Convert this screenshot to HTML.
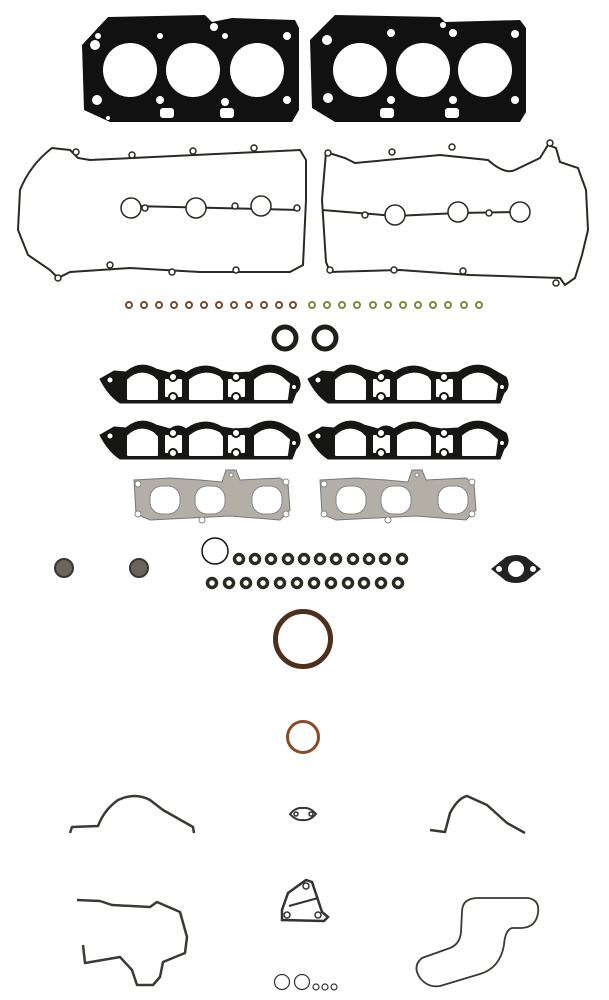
<!DOCTYPE html>
<html><head><meta charset="utf-8"><style>html,body{margin:0;padding:0;background:#fff}svg{display:block}</style></head>
<body>
<svg width="609" height="1000" viewBox="0 0 609 1000" xmlns="http://www.w3.org/2000/svg">
<g fill="#111">
<path d="M108,17 L205,15 L212,22 L232,18 L295,20 L299,28 L299,110 L292,122 L110,122 L84,110 L82,45 Z"/>
<path d="M335,15 L440,17 L445,22 L520,20 L526,28 L526,112 L520,122 L335,122 L312,108 L310,40 Z"/>
</g>
<g fill="#fff">
<circle cx="130" cy="70" r="27"/><circle cx="193" cy="70" r="27"/><circle cx="257" cy="70" r="27"/>
<circle cx="360" cy="70" r="27"/><circle cx="423" cy="70" r="27"/><circle cx="485" cy="70" r="27"/>
<circle cx="95" cy="45" r="5"/><circle cx="98" cy="36" r="3"/><circle cx="97" cy="100" r="5"/><circle cx="160" cy="36" r="3"/><circle cx="160" cy="100" r="4"/><circle cx="225" cy="36" r="3"/><circle cx="225" cy="102" r="4"/><circle cx="287" cy="36" r="4"/><circle cx="287" cy="100" r="4"/><circle cx="214" cy="27" r="4"/><circle cx="108" cy="118" r="2"/>
<circle cx="327" cy="40" r="5"/><circle cx="328" cy="98" r="5"/><circle cx="391" cy="33" r="4"/><circle cx="391" cy="100" r="4"/><circle cx="453" cy="33" r="4"/><circle cx="453" cy="100" r="4"/><circle cx="515" cy="34" r="4"/><circle cx="515" cy="100" r="4"/><circle cx="443" cy="25" r="3"/>
<rect x="380" y="108" width="14" height="10" rx="3"/><rect x="445" y="108" width="14" height="10" rx="3"/><rect x="160" y="108" width="14" height="10" rx="3"/><rect x="220" y="108" width="14" height="10" rx="3"/>
</g>
<g fill="none" stroke="#2a2a24" stroke-width="2">
<path d="M20,190 Q30,165 52,148 L70,150 L78,158 L90,160 L300,150 L306,160 L306,200 L303,265 L290,272 L200,272 L130,268 L70,272 L58,278 L50,270 L28,255 L18,230 Z"/>
<path d="M132,206 L300,210"/>
<path d="M326,152 L345,158 L355,163 L440,155 L488,160 Q505,175 515,170 L540,158 L548,145 L556,148 L560,162 L578,168 L586,190 L588,230 L582,255 L575,278 L565,285 L560,278 L470,275 L400,270 L330,272 L326,262 L322,200 Z"/>
<path d="M322,210 L395,216 L458,213 L520,212"/>
</g>
<g fill="#fff" stroke="#2a2a24" stroke-width="1.5">
<circle cx="131" cy="208" r="10"/><circle cx="196" cy="208" r="10"/><circle cx="261" cy="206" r="10"/>
<circle cx="145" cy="208" r="3"/><circle cx="235" cy="206" r="3"/><circle cx="297" cy="208" r="3"/>
<circle cx="395" cy="215" r="10"/><circle cx="458" cy="212" r="10"/><circle cx="520" cy="212" r="10"/>
<circle cx="365" cy="215" r="3"/><circle cx="489" cy="213" r="3"/>
<circle cx="76" cy="152" r="3"/><circle cx="132" cy="155" r="3"/><circle cx="193" cy="151" r="3"/><circle cx="254" cy="148" r="3"/>
<circle cx="110" cy="265" r="3"/><circle cx="172" cy="272" r="3"/><circle cx="236" cy="270" r="3"/><circle cx="58" cy="278" r="3"/>
<circle cx="328" cy="153" r="3"/><circle cx="392" cy="152" r="3"/><circle cx="452" cy="147" r="3"/><circle cx="550" cy="143" r="3"/>
<circle cx="330" cy="270" r="3"/><circle cx="394" cy="270" r="3"/><circle cx="463" cy="271" r="3"/><circle cx="556" cy="283" r="3"/>
</g>
<g fill="none" stroke-width="2">
<g stroke="#7a4a2a">
<circle cx="129" cy="305" r="3"/><circle cx="144" cy="305" r="3"/><circle cx="159" cy="305" r="3"/><circle cx="174" cy="305" r="3"/><circle cx="189" cy="305" r="3"/><circle cx="204" cy="305" r="3"/><circle cx="219" cy="305" r="3"/><circle cx="234" cy="305" r="3"/><circle cx="249" cy="305" r="3"/><circle cx="264" cy="305" r="3"/><circle cx="279" cy="305" r="3"/><circle cx="293" cy="305" r="3"/>
</g>
<g stroke="#7a8a3a">
<circle cx="312" cy="305" r="3"/><circle cx="327" cy="305" r="3"/><circle cx="342" cy="305" r="3"/><circle cx="357" cy="305" r="3"/><circle cx="373" cy="305" r="3"/><circle cx="388" cy="305" r="3"/><circle cx="403" cy="305" r="3"/><circle cx="418" cy="305" r="3"/><circle cx="433" cy="305" r="3"/><circle cx="448" cy="305" r="3"/><circle cx="464" cy="305" r="3"/><circle cx="479" cy="305" r="3"/>
</g>
<circle cx="285" cy="338" r="11" stroke="#1e1e1a" stroke-width="5"/>
<circle cx="325" cy="338" r="11" stroke="#1e1e1a" stroke-width="5"/>
</g>
<defs>
<g id="intake">
<path d="M0,16 L14,8 L26,9 Q40,-3 56,6 L70,10 Q78,4 86,10 Q104,-3 122,8 L134,10 L150,9 Q168,-3 184,6 L198,14 Q203,24 196,30 L192,40 L20,40 Q8,32 0,16 Z" fill="#161614" stroke="#161614" stroke-width="1" stroke-linejoin="round"/>
<g fill="#fff" stroke="#fff" stroke-width="2" stroke-linejoin="round">
<path d="M28,36 L28,17 Q40,6 53,14 L57,18 L57,36 Z"/>
<path d="M90,36 L90,17 Q104,6 119,14 L122,18 L122,36 Z"/>
<path d="M155,36 L155,17 Q168,6 181,14 L189,21 L187,36 Z"/>
<rect x="66" y="17" width="15" height="16"/>
<rect x="129" y="17" width="15" height="16"/>
</g>
<g fill="#fff" stroke="#161614" stroke-width="2">
<circle cx="73" cy="14" r="4"/><circle cx="73" cy="34" r="4"/>
<circle cx="136" cy="14" r="4"/><circle cx="136" cy="34" r="4"/>
<circle cx="10" cy="17" r="3.5"/><circle cx="194" cy="24" r="3"/>
</g>
</g>
<g id="exh">
<path d="M4,10 L40,8 L70,10 L92,12 L96,0 L106,0 L110,10 L150,8 L158,14 L160,40 L150,50 L100,46 L60,48 L20,50 L6,44 Z" fill="#b3aea6" stroke="#777" stroke-width="1"/>
<g fill="#fff" stroke="#888" stroke-width="1">
<rect x="20" y="16" width="30" height="28" rx="12"/><rect x="65" y="16" width="30" height="28" rx="12"/><rect x="122" y="16" width="30" height="28" rx="12"/>
<circle cx="8" cy="14" r="3"/><circle cx="8" cy="44" r="3"/><circle cx="156" cy="12" r="3"/><circle cx="156" cy="44" r="3"/><circle cx="72" cy="50" r="3"/><circle cx="101" cy="5" r="2"/>
</g>
</g>
</defs>
<use href="#intake" x="100" y="363"/>
<use href="#intake" x="308" y="363"/>
<use href="#intake" x="100" y="419"/>
<use href="#intake" x="308" y="419"/>
<use href="#exh" x="130" y="470"/>
<use href="#exh" x="316" y="470"/>
<g>
<circle cx="64" cy="568" r="9" fill="#6a645a" stroke="#3a3630" stroke-width="2"/>
<circle cx="139" cy="568" r="9" fill="#6a645a" stroke="#3a3630" stroke-width="2"/>
<circle cx="215" cy="551" r="13" fill="none" stroke="#111" stroke-width="1.5"/>
</g>
<g fill="none" stroke="#2a2a20" stroke-width="3.5">
<circle cx="239" cy="559" r="4.5"/><circle cx="255" cy="559" r="4.5"/><circle cx="271" cy="559" r="4.5"/><circle cx="288" cy="559" r="4.5"/><circle cx="304" cy="559" r="4.5"/><circle cx="320" cy="559" r="4.5"/><circle cx="336" cy="559" r="4.5"/><circle cx="353" cy="559" r="4.5"/><circle cx="369" cy="559" r="4.5"/><circle cx="385" cy="559" r="4.5"/><circle cx="402" cy="559" r="4.5"/>
<circle cx="212" cy="583" r="4.5"/><circle cx="229" cy="583" r="4.5"/><circle cx="246" cy="583" r="4.5"/><circle cx="263" cy="583" r="4.5"/><circle cx="280" cy="583" r="4.5"/><circle cx="297" cy="583" r="4.5"/><circle cx="314" cy="583" r="4.5"/><circle cx="331" cy="583" r="4.5"/><circle cx="348" cy="583" r="4.5"/><circle cx="364" cy="583" r="4.5"/><circle cx="381" cy="583" r="4.5"/><circle cx="398" cy="583" r="4.5"/>
</g>
<path d="M491,569 L506,557 Q516,553 526,557 L541,569 L526,581 Q516,585 506,581 Z" fill="#222"/>
<circle cx="516" cy="569" r="8" fill="#fff"/><circle cx="499" cy="569" r="3" fill="#fff"/><circle cx="533" cy="569" r="3" fill="#fff"/>
<circle cx="303" cy="639" r="27.5" fill="none" stroke="#4e2f1e" stroke-width="5"/>
<circle cx="303" cy="737" r="15.5" fill="none" stroke="#8a4a28" stroke-width="3"/>
<g fill="none" stroke="#3a3a34" stroke-width="2.5" stroke-linejoin="round">
<path d="M70,833 L72,827 L98,826 Q104,810 118,800 Q135,792 150,800 L163,810 L193,827 L194,833"/>
<path d="M430,830 L445,832 L450,813 Q458,798 467,796 L487,805 L507,823 L525,833"/>
<path d="M77,900 L100,901 L112,905 L150,907 L157,902 L180,912 L187,937 L185,953 L163,962 L160,977 L153,985 L137,985 L132,970 L120,957 L85,963 L83,945"/>
<path d="M462,912 Q462,898 478,898 L528,898 Q540,900 538,913 Q536,927 522,928 L512,928 Q505,930 504,945 Q500,968 480,974 L440,986 Q428,988 420,978 Q412,966 422,958 L450,948 Q460,944 461,932 Z" stroke-width="1.8"/>
</g>
<path d="M290,814 Q296,807 303,808 Q310,807 316,814 Q310,821 303,820 Q296,821 290,814 Z" fill="#fff" stroke="#333" stroke-width="2"/>
<circle cx="296" cy="814" r="2" fill="none" stroke="#333" stroke-width="1.5"/><circle cx="311" cy="814" r="2" fill="none" stroke="#333" stroke-width="1.5"/>
<path d="M288,893 L306,880 L312,882 L322,912 L328,917 L324,921 L282,920 L282,910 Z" fill="#fff" stroke="#333" stroke-width="2.5"/>
<path d="M289,906 L318,898" stroke="#333" stroke-width="2"/>
<circle cx="306" cy="886" r="3" fill="none" stroke="#333" stroke-width="1.5"/><circle cx="287" cy="915" r="3" fill="none" stroke="#333" stroke-width="1.5"/><circle cx="318" cy="915" r="3" fill="none" stroke="#333" stroke-width="1.5"/>
<g fill="none" stroke="#333" stroke-width="1.2">
<circle cx="282" cy="982" r="7.5"/><circle cx="302" cy="982" r="7.5"/><circle cx="316" cy="987" r="3"/><circle cx="325" cy="987" r="3"/><circle cx="334" cy="987" r="3"/>
</g>
</svg>
</body></html>
